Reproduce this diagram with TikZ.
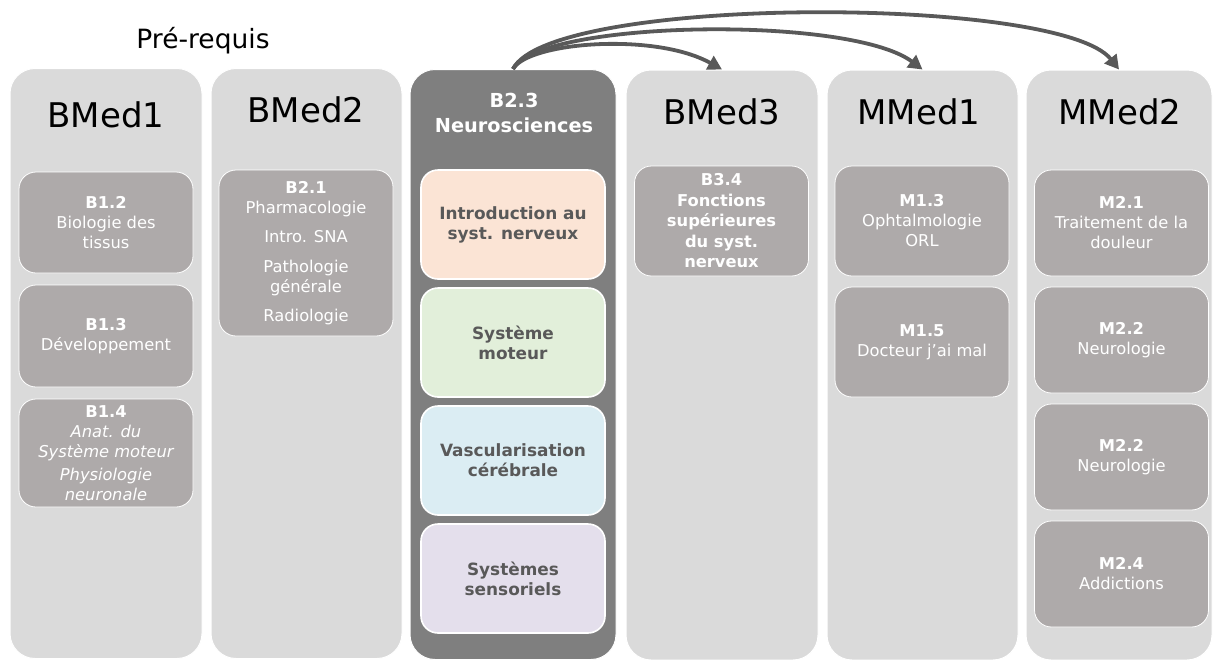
\documentclass[tikz,border=0pt]{standalone}
\usepackage{fontspec}
\setmainfont{DejaVu Sans}
\usetikzlibrary{arrows.meta}
\definecolor{colbg}{HTML}{DADADA}
\definecolor{coldark}{HTML}{7F7F7F}
\definecolor{boxgray}{HTML}{AEAAAA}
\definecolor{txtdark}{HTML}{595959}
\definecolor{arrcol}{HTML}{595959}
\definecolor{peach}{HTML}{FBE4D5}
\definecolor{lgreen}{HTML}{E2EFDA}
\definecolor{lblue}{HTML}{DBEDF3}
\definecolor{lpurple}{HTML}{E4DFEC}
\tikzset{
  colbox/.style={draw=white, line width=1pt, fill=colbg, rounded corners=25pt,
    minimum width=#1, minimum height=590pt, inner sep=0pt},
  darkcol/.style={draw=white, line width=1pt, fill=coldark, rounded corners=25pt,
    minimum width=#1, minimum height=590pt, inner sep=0pt},
  coltitle/.style={font=\fontsize{34}{40}\selectfont, text=black, inner sep=0pt},
  ibox/.style={draw=white, line width=0.8pt, fill=boxgray, rounded corners=17pt,
    text=white, align=center, font=\fontsize{16.3}{20}\selectfont, inner sep=0pt,
    minimum width=174pt, minimum height=#1},
  pbox/.style={draw=white, line width=1.6pt, rounded corners=17pt,
    text=txtdark, align=center, font=\bfseries\fontsize{16.9}{20}\selectfont, inner sep=0pt,
    minimum width=184pt, minimum height=109pt},
  conn/.style={draw=arrcol, line width=3.8pt, -{Triangle[length=14pt,width=15pt]}},
}
\begin{document}
\begin{tikzpicture}[x=1pt,y=-1pt]
\useasboundingbox (0,0) rectangle (1214,659);
\fill[white] (0,0) rectangle (1214,659);

% title
\node[font=\fontsize{26.5}{30}\selectfont, inner sep=0pt] (prereq) at (203,41) {Pré-requis};

% columns
\node[colbox=192pt] (c1) at (106,363.5) {};
\node[colbox=191pt] (c2) at (306.5,363.5) {};
\node[darkcol=206pt] (c3) at (513,364.5) {};
\node[colbox=192pt] (c4) at (722,365) {};
\node[colbox=191pt] (c5) at (922.5,365) {};
\node[colbox=186pt] (c6) at (1119,365) {};

% column titles
\node[coltitle] (t1) at (106,115) {BMed1};
\node[coltitle] (t2) at (306,110) {BMed2};
\node[coltitle] (t4) at (722,112) {BMed3};
\node[coltitle] (t5) at (919,112) {MMed1};
\node[coltitle] (t6) at (1120,112) {MMed2};
\node[text=white, align=center, font=\bfseries\fontsize{19.3}{25}\selectfont, inner sep=0pt] (t3) at (514,113) {B2.3\\Neurosciences};

% BMed1
\node[ibox=101pt] (b12) at (106,222.5) {\textbf{B1.2}\\Biologie des\\tissus};
\node[ibox=102pt] (b13) at (106,336) {\textbf{B1.3}\\Développement};
\node[ibox=108pt] (b14) at (106,453) {\textbf{B1.4}\\\itshape Anat. du\\\itshape Système moteur\\[3pt]\itshape Physiologie\\\itshape neuronale};

% BMed2
\node[ibox=166pt] (b21) at (306,253) {\textbf{B2.1}\\Pharmacologie\\[9pt]Intro. SNA\\[10pt]Pathologie\\générale\\[9pt]Radiologie};

% B2.3
\node[pbox, fill=peach] (p1) at (513,224.5) {Introduction au\\syst. nerveux};
\node[pbox, fill=lgreen] (p2) at (513,342.5) {Système\\moteur};
\node[pbox, fill=lblue] (p3) at (513,460.5) {Vascularisation\\cérébrale};
\node[pbox, fill=lpurple] (p4) at (513,578.5) {Systèmes\\sensoriels};

% BMed3
\node[ibox=110pt, font=\bfseries\fontsize{16.3}{20.5}\selectfont] (b34) at (721.5,221) {B3.4\\Fonctions\\supérieures\\du syst.\\nerveux};

% MMed1
\node[ibox=110pt] (m13) at (922,221) {\textbf{M1.3}\\Ophtalmologie\\ORL};
\node[ibox=110pt] (m15) at (922,342) {\textbf{M1.5}\\Docteur j’ai mal};

% MMed2
\node[ibox=106pt] (m21) at (1121.5,223) {\textbf{M2.1}\\Traitement de la\\douleur};
\node[ibox=106pt] (m22) at (1121.5,340) {\textbf{M2.2}\\Neurologie};
\node[ibox=106pt] (m22b) at (1121.5,457) {\textbf{M2.2}\\Neurologie};
\node[ibox=106pt] (m24) at (1121.5,574) {\textbf{M2.4}\\Addictions};

% connectors
\draw[conn] (c3.north) .. controls (528,42) and (655,32) .. (c4.north);
\draw[conn] (c3.north) .. controls (540,20) and (850,15) .. (c5.north);
\draw[conn] (c3.north) .. controls (550,-5) and (1060,-5) .. (c6.north);
\end{tikzpicture}
\end{document}
